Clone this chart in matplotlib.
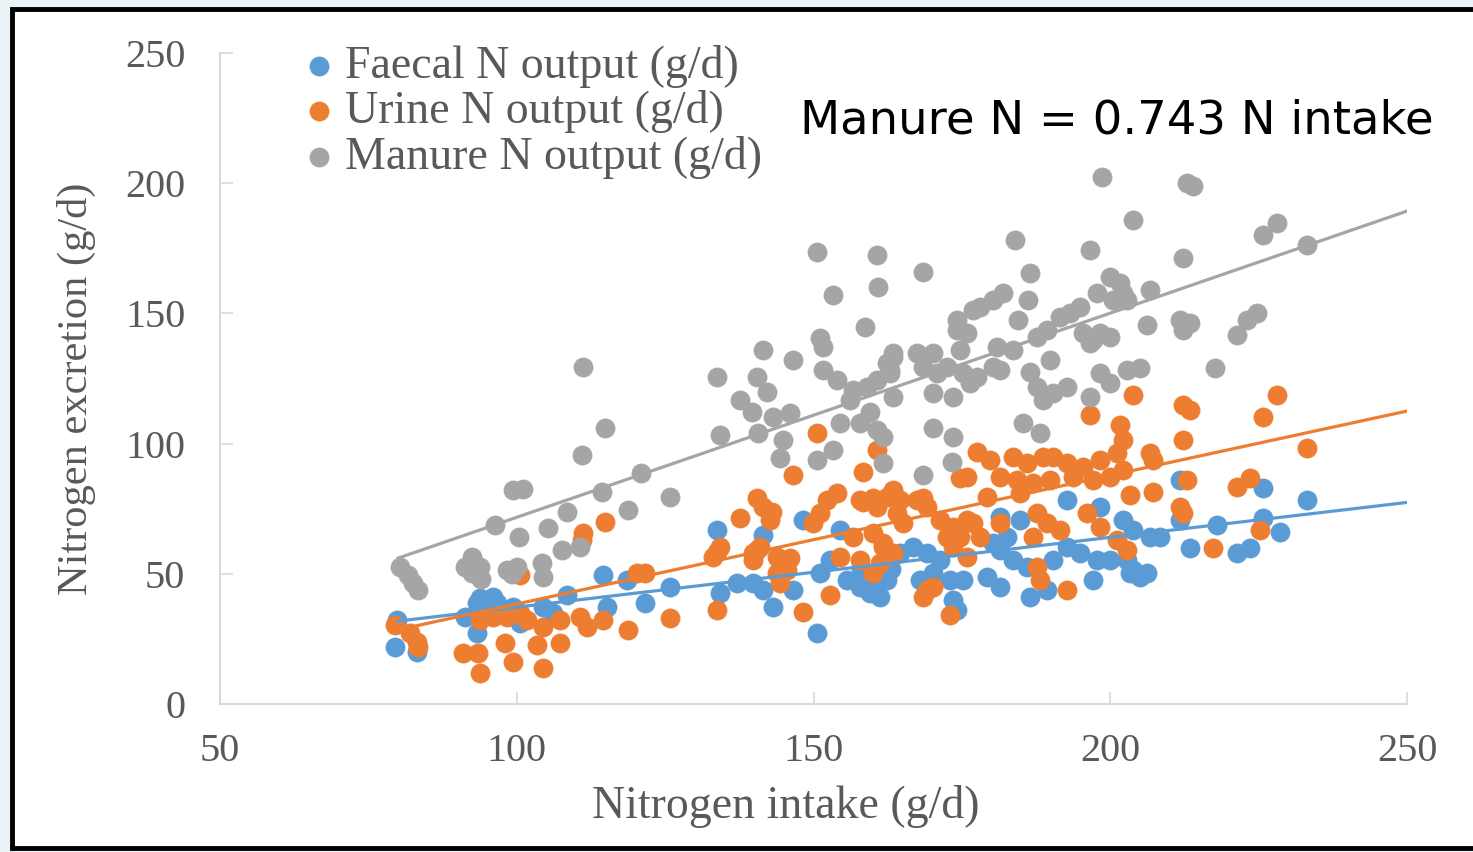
import matplotlib
matplotlib.use("Agg")
import matplotlib.pyplot as plt
from matplotlib.patches import Rectangle
import numpy as np

# Faecal N output (g/d)
faecal_x = [79.5, 83.2, 79.8, 93.8, 96.0, 95.5, 93.3, 96.7, 93.3, 99.4, 91.3, 100.5, 104.4, 106.1, 108.5,
            114.5, 118.6, 115.2, 121.6, 125.8, 133.7, 141.5, 134.2, 137.1, 139.8, 141.5, 143.2, 146.5, 150.6,
            151.1, 152.8, 155.6, 157.8, 159.5, 161.2, 162.4, 154.5, 148.2, 164.6, 166.8, 169.1, 171.3, 167.9,
            170.1, 173.0, 175.2, 173.5, 174.2, 179.2, 181.4, 186.5, 189.3, 180.2, 181.4, 183.6, 186.0, 190.4,
            192.7, 182.6, 181.4, 184.8, 192.7, 198.3, 194.9, 197.8, 200.0, 202.8, 203.8, 197.1, 203.3, 206.2,
            205.0, 202.1, 203.8, 206.7, 208.4, 211.8, 211.8, 213.4, 218.0, 221.4, 223.5, 225.7, 225.7, 228.6,
            233.2, 158.0, 163.0, 160.0]
faecal_y = [21.9, 20.0, 32.3, 40.7, 41.1, 37.2, 38.8, 38.8, 27.3, 37.2, 33.4, 31.1, 37.2, 34.9, 41.9,
            49.5, 47.6, 37.2, 38.8, 44.9, 66.8, 64.9, 42.6, 46.5, 46.5, 43.8, 37.2, 43.8, 27.3,
            50.3, 55.3, 47.6, 44.9, 42.6, 41.1, 47.6, 66.8, 70.7, 58.0, 60.3, 58.0, 55.3, 47.6,
            50.3, 47.6, 47.6, 39.9, 36.1, 48.8, 44.9, 41.1, 43.8, 61.8, 59.1, 55.3, 52.6, 55.3,
            60.3, 64.1, 71.8, 70.7, 78.3, 75.7, 58.0, 55.3, 55.3, 55.3, 51.5, 47.6, 50.3, 50.3,
            48.8, 70.7, 66.8, 64.1, 64.1, 86.0, 70.7, 59.9, 68.7, 58.0, 59.9, 71.4, 82.9, 66.1,
            78.3, 52.0, 52.0, 45.0]

# Urine N output (g/d)
urine_x = [79.5, 82.0, 83.2, 83.4, 91.0, 93.5, 93.8, 99.4, 104.4, 98.0, 103.4, 107.3, 93.8, 96.0, 98.4,
           100.5, 101.7, 104.4, 107.3, 110.7, 111.8, 114.5, 118.7, 100.5, 114.9, 111.2, 111.0, 120.3, 121.6,
           125.8, 133.7, 148.2, 152.8, 146.5, 158.3, 160.7, 150.6, 140.5, 141.5, 143.0, 142.7, 137.6, 134.2,
           133.7, 133.1, 139.8, 141.0, 140.5, 139.8, 143.9, 146.0, 145.5, 143.9, 144.4, 152.3, 151.1, 149.9,
           154.0, 156.7, 160.0, 161.7, 161.7, 163.4, 154.5, 157.8, 161.2, 160.0, 163.4, 164.6, 158.3, 160.0,
           157.8, 160.7, 162.4, 164.1, 165.1, 167.4, 169.1, 171.3, 173.5, 175.9, 174.7, 172.5, 176.9, 178.1,
           173.5, 175.9, 168.5, 174.7, 175.9, 177.5, 179.7, 179.2, 181.4, 183.6, 184.3, 186.0, 186.9, 184.8,
           188.7, 189.8, 190.4, 192.7, 193.7, 195.4, 197.1, 198.3, 200.0, 202.1, 181.4, 187.7, 189.3, 191.5,
           186.9, 196.1, 198.3, 201.1, 202.8, 187.7, 188.2, 192.7, 169.1, 168.5, 170.1, 173.0, 203.8, 196.6,
           201.6, 202.1, 201.1, 203.3, 206.7, 207.2, 207.2, 211.8, 212.3, 212.3, 213.4, 212.3, 212.9, 217.3,
           221.4, 223.5, 225.2, 225.7, 228.1, 233.2]
urine_y = [30.3, 27.3, 23.8, 21.9, 19.6, 19.6, 11.9, 16.1, 13.8, 23.4, 22.7, 23.4, 32.3, 33.4, 33.4,
           34.9, 32.3, 29.6, 32.3, 33.4, 29.6, 32.3, 28.4, 49.5, 69.9, 65.7, 63.0, 50.3, 50.3,
           33.0, 36.1, 35.3, 41.9, 87.9, 89.1, 97.5, 104.1, 79.1, 75.7, 73.7, 70.7, 71.4, 60.3,
           58.4, 56.5, 58.0, 60.3, 59.1, 55.3, 56.5, 56.1, 51.5, 50.3, 46.5, 78.3, 73.3, 69.5,
           81.0, 64.1, 65.7, 60.3, 61.8, 58.0, 56.5, 55.3, 54.1, 50.3, 82.2, 78.3, 77.6, 79.1,
           78.3, 75.7, 79.5, 73.3, 69.5, 78.3, 75.7, 70.7, 68.0, 70.7, 64.1, 64.1, 69.5, 64.1,
           60.3, 56.5, 79.1, 86.8, 87.2, 96.8, 93.7, 79.5, 87.2, 94.9, 86.0, 92.5, 84.9, 81.0,
           94.9, 86.0, 94.9, 92.5, 87.2, 91.0, 86.0, 93.7, 87.2, 89.9, 69.5, 73.3, 69.5, 66.8,
           64.1, 73.3, 68.0, 63.0, 59.1, 52.6, 47.6, 43.8, 43.8, 41.1, 44.9, 34.2, 118.7, 111.0,
           107.1, 101.4, 96.4, 80.3, 96.4, 93.7, 81.4, 75.7, 73.3, 114.8, 112.9, 101.4, 86.0, 59.9,
           83.3, 86.8, 66.8, 110.2, 118.7, 98.3]

# Manure N output (g/d)
manure_x = [80.3, 81.6, 82.5, 83.3, 91.3, 92.5, 92.5, 93.8, 94.0, 98.4, 100.0, 99.2, 104.3, 104.4, 96.3,
            99.4, 101.0, 100.4, 105.3, 107.6, 110.7, 108.5, 111.2, 114.9, 111.0, 114.4, 118.7, 121.0, 125.8,
            133.7, 134.2, 137.6, 139.6, 140.5, 142.2, 140.6, 141.5, 143.2, 146.0, 144.9, 144.4, 146.5, 150.6,
            160.7, 153.3, 160.9, 158.7, 151.1, 151.6, 151.6, 154.0, 156.7, 159.0, 160.7, 162.9, 163.4, 162.4,
            156.1, 159.5, 154.5, 157.8, 160.7, 161.7, 161.7, 153.3, 150.6, 163.4, 167.4, 170.1, 174.7, 168.5,
            170.8, 172.5, 175.2, 177.5, 180.2, 181.4, 162.9, 163.4, 170.1, 173.5, 176.4, 170.1, 173.5, 168.5,
            173.3, 168.5, 174.2, 174.2, 175.9, 176.9, 178.0, 180.2, 181.9, 184.0, 186.5, 186.1, 184.5, 180.9,
            183.6, 187.7, 189.3, 191.5, 193.2, 194.9, 189.8, 186.5, 187.7, 188.7, 190.4, 192.7, 185.3, 188.2,
            195.4, 197.1, 198.3, 200.0, 196.6, 198.3, 200.0, 202.8, 196.6, 198.6, 203.8, 196.6, 200.0, 201.6,
            202.1, 202.8, 197.8, 200.5, 206.7, 206.2, 205.0, 212.9, 214.0, 212.3, 211.8, 213.4, 212.3, 217.6,
            221.4, 223.0, 224.7, 225.7, 228.1, 233.2]
manure_y = [52.6, 49.5, 46.5, 43.8, 52.6, 56.5, 50.3, 52.6, 48.0, 51.5, 52.6, 50.0, 54.1, 48.8, 68.7,
            82.2, 82.5, 64.1, 67.6, 59.1, 60.3, 73.7, 129.4, 106.0, 95.6, 81.4, 74.5, 88.7, 79.5,
            125.6, 103.3, 116.7, 112.1, 125.6, 119.8, 104.1, 136.0, 110.2, 111.8, 101.4, 94.5, 132.1, 173.6,
            172.4, 157.1, 160.1, 144.8, 140.5, 137.1, 128.3, 124.4, 120.6, 121.7, 124.4, 128.3, 133.3, 131.0,
            116.7, 112.1, 107.9, 107.9, 105.2, 102.5, 92.5, 97.5, 93.7, 134.8, 134.8, 134.8, 135.9, 129.4,
            127.1, 129.4, 127.1, 125.6, 129.4, 128.3, 127.1, 117.9, 119.4, 117.9, 123.3, 106.0, 102.5, 87.9,
            92.9, 165.9, 147.5, 143.6, 142.5, 151.3, 152.5, 155.1, 157.8, 178.2, 165.5, 155.1, 147.5, 137.1,
            135.9, 140.9, 143.6, 148.6, 150.2, 152.5, 132.1, 127.5, 121.7, 116.7, 119.4, 121.7, 107.9, 104.1,
            142.5, 139.8, 142.5, 140.9, 138.6, 127.1, 123.3, 128.3, 117.9, 202.4, 185.9, 174.3, 164.0, 161.7,
            157.8, 155.1, 157.8, 155.1, 159.0, 145.5, 129.0, 200.0, 199.0, 171.3, 147.5, 146.3, 143.6, 129.0,
            141.7, 147.5, 150.2, 180.1, 184.7, 176.3]

# linear trend lines: (intercept, slope), drawn from x=80 to 250
trend_faecal = (10.4, 0.268)
trend_urine = (-11.0, 0.494)
trend_manure = (-6.7, 0.784)
trend_x = [80, 250]

series_labels = ["Faecal N output (g/d)", "Urine N output (g/d)", "Manure N output (g/d)"]
colors = ["#5B9BD5", "#ED7D31", "#A5A5A5"]
serif = "Liberation Serif"
txt_gray = "#595959"

fig = plt.figure(figsize=(14.73, 8.52), dpi=100, facecolor="#eaf4f7")
frame = Rectangle((11.5 / 1473, 4 / 852), 1.1, 839.5 / 852, transform=fig.transFigure,
                  facecolor="white", edgecolor="black", linewidth=3.5, zorder=-10)
fig.patches.append(frame)

ax = fig.add_axes([220 / 1473, 148 / 852, 1187 / 1473, 651 / 852])
ax.set_facecolor("none")

pts = [(faecal_x, faecal_y), (urine_x, urine_y), (manure_x, manure_y)]
handles = []
for (xs, ys), c, lab in zip(pts, colors, series_labels):
    h = ax.scatter(xs, ys, s=190, color=c, edgecolors=c, linewidths=0.5, label=lab, zorder=2)
    handles.append(h)

tx = np.array(trend_x, dtype=float)
for (b, m), c in zip([trend_faecal, trend_urine, trend_manure], colors):
    ax.plot(tx, b + m * tx, color=c, lw=2.3, zorder=3)

ax.set_xlim(50, 250)
ax.set_ylim(0, 250)
ax.set_xticks([50, 100, 150, 200, 250])
ax.set_yticks([0, 50, 100, 150, 200, 250])
for s in ["top", "right"]:
    ax.spines[s].set_visible(False)
for s in ["left", "bottom"]:
    ax.spines[s].set_color("#d9d9d9")
    ax.spines[s].set_linewidth(1.5)
ax.tick_params(direction="in", length=9, width=1.2, color="#d9d9d9", labelcolor=txt_gray,
               labelsize=29)
ax.tick_params(axis="x", pad=21)
ax.tick_params(axis="y", pad=25)
for lbl in ax.get_xticklabels() + ax.get_yticklabels():
    lbl.set_fontfamily(serif)

ax.set_xlabel("Nitrogen intake (g/d)", fontsize=33, family=serif, color=txt_gray)
ax.set_ylabel("Nitrogen excretion (g/d)", fontsize=30.5, family=serif, color=txt_gray)
ax.xaxis.set_label_coords((786 - 220) / 1187, (704 - 806) / 651)
ax.yaxis.set_label_coords((76 - 220) / 1187, (704 - 389) / 651)
ax.xaxis.label.set_va("center")
ax.yaxis.label.set_va("center")

ax.legend(handles=handles, loc="upper left", bbox_to_anchor=(306 / 1473, 1 - 45 / 852),
          bbox_transform=fig.transFigure, frameon=False, prop={"family": serif, "size": 33},
          handlelength=0.55, handletextpad=0.3, labelspacing=0.05, borderpad=0, borderaxespad=0,
          labelcolor=txt_gray)

fig.text(800 / 1473, 1 - 121 / 852, "Manure N = 0.743 N intake", fontsize=33.5,
         family="DejaVu Sans", color="black", va="center", ha="left")

fig.savefig("out.png", dpi=100, facecolor=fig.get_facecolor())
